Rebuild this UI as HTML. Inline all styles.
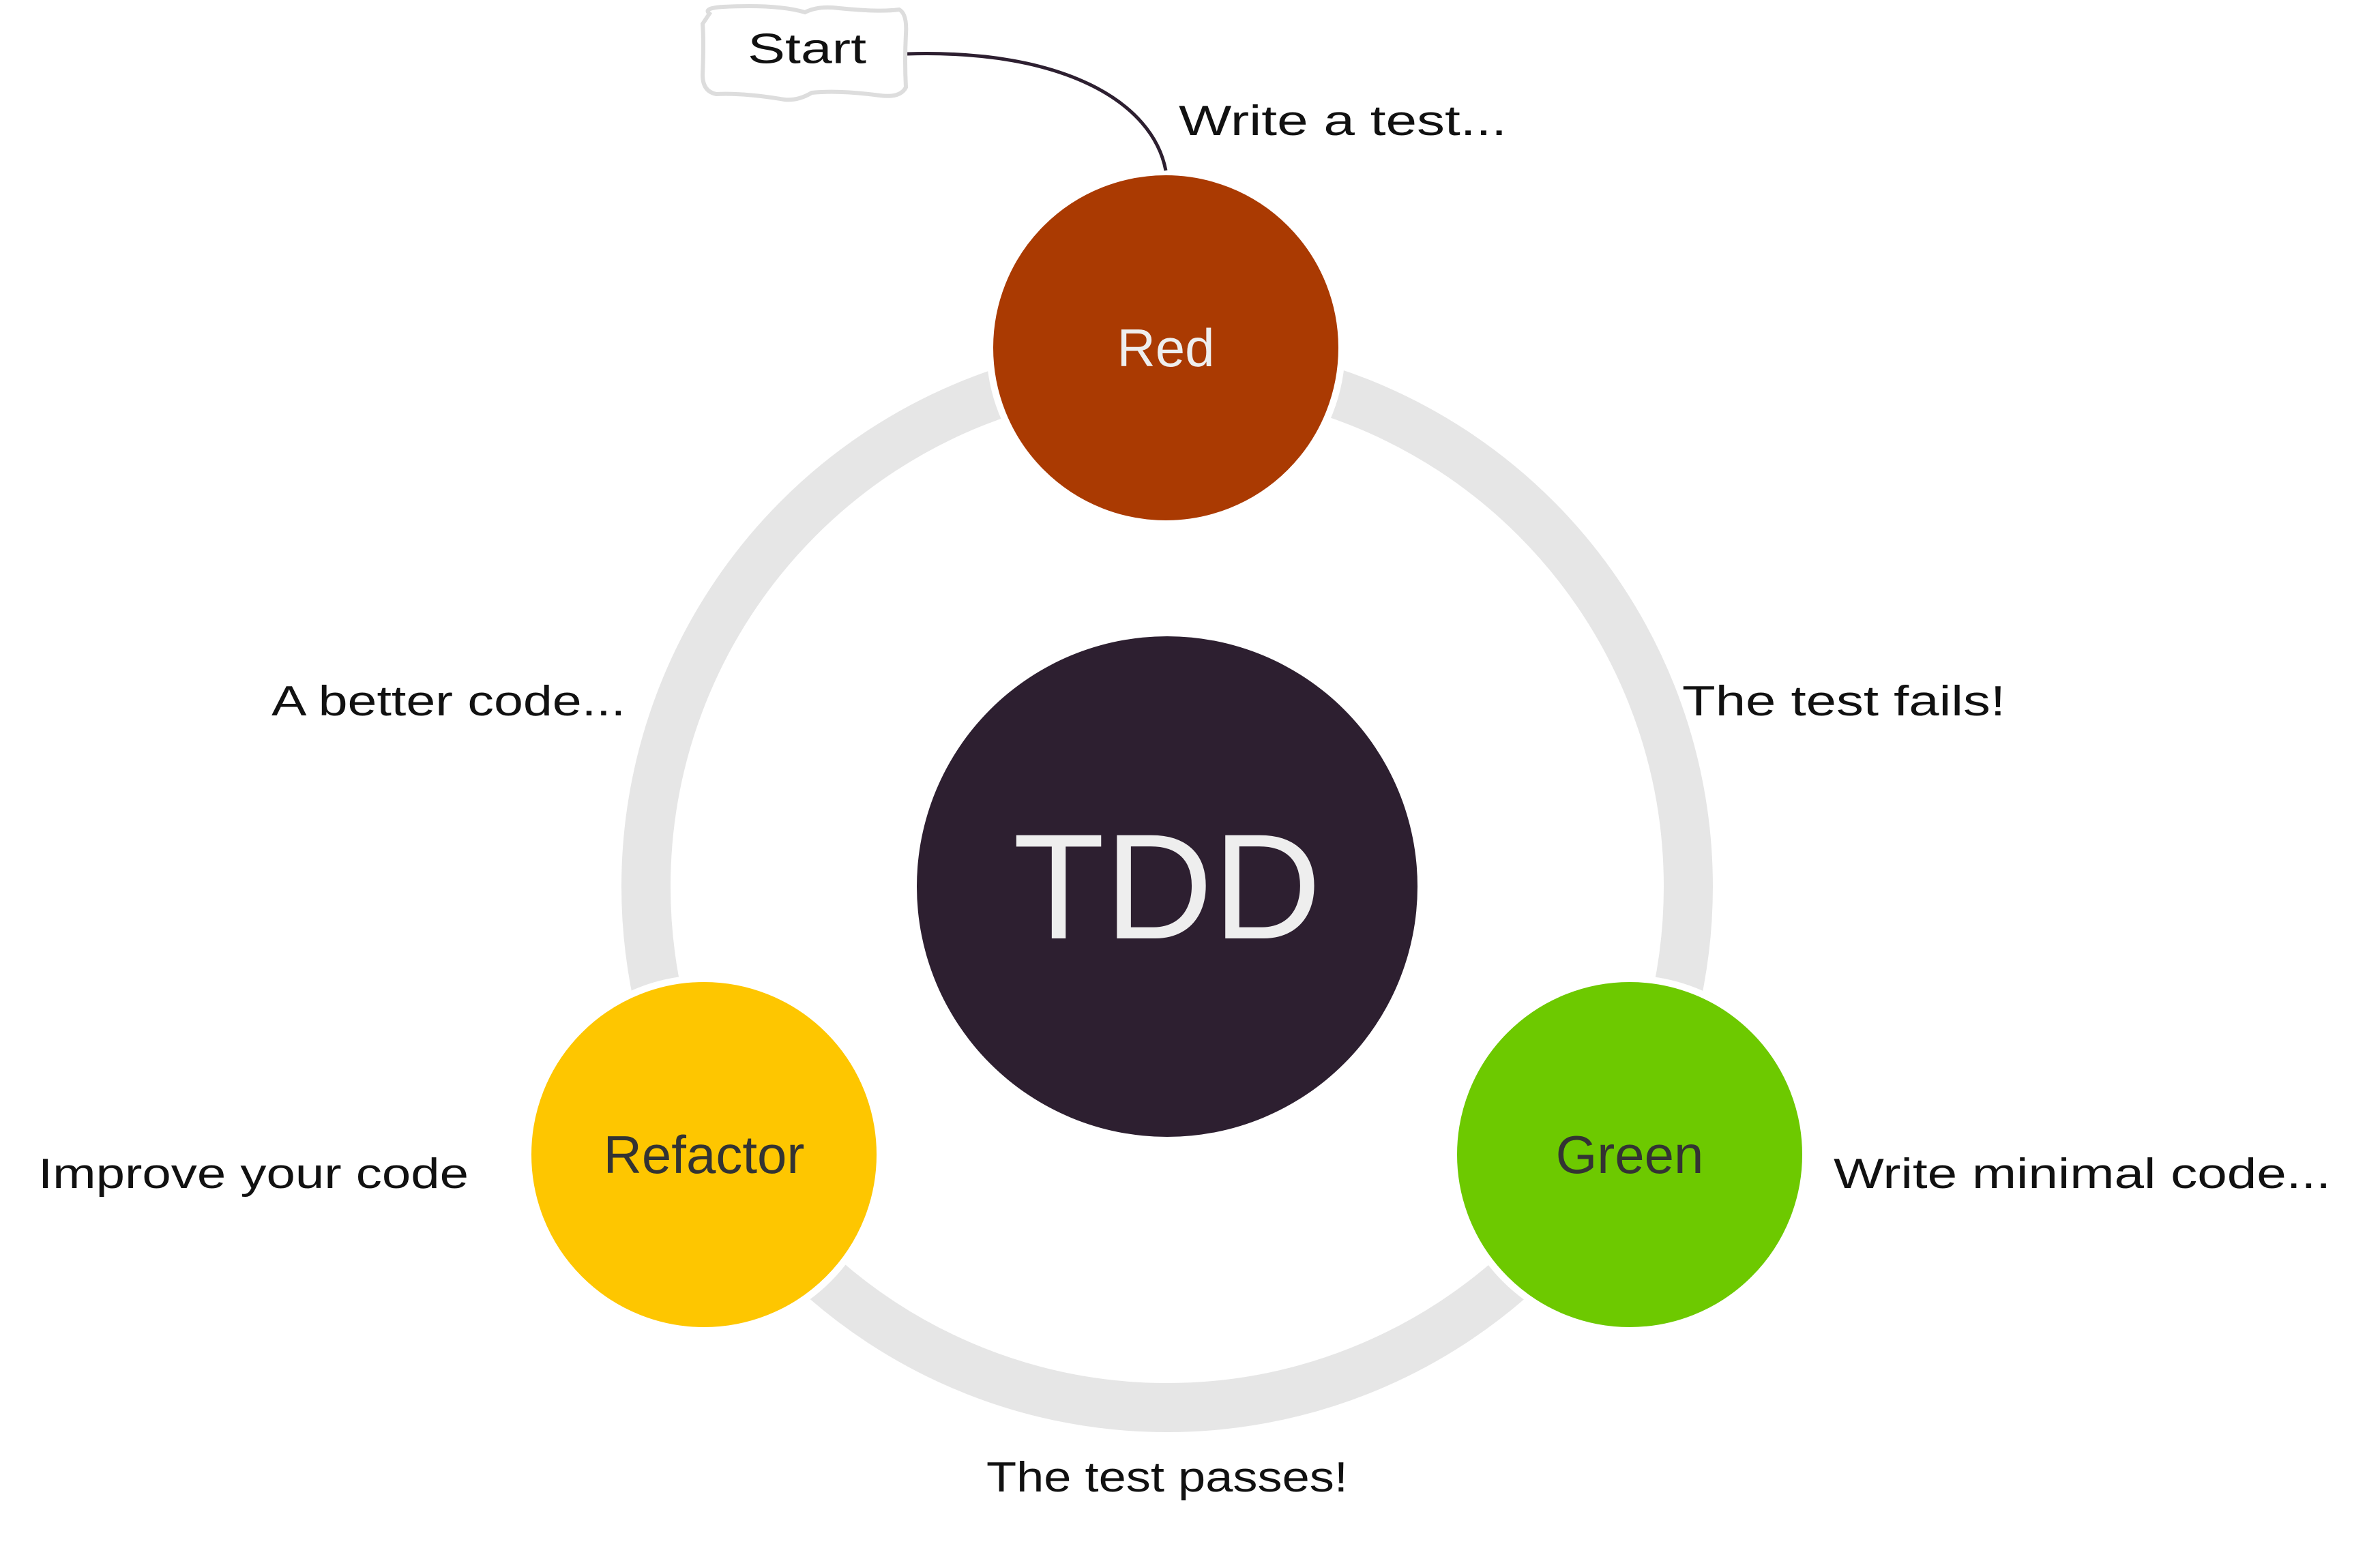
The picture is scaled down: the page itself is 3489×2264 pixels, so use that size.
<!DOCTYPE html>
<html><head><meta charset="utf-8"><style>
html,body{margin:0;padding:0;background:#fff;}
svg{display:block;}
.h{font-family:"Liberation Sans",sans-serif;font-size:62px;fill:#111;}
.n{font-family:"Liberation Sans",sans-serif;}
</style></head><body>
<svg width="3489" height="2264" viewBox="0 0 3489 2264" xmlns="http://www.w3.org/2000/svg">
<rect width="3489" height="2264" fill="#fff"/>
<circle cx="1711" cy="1300" r="764" fill="none" stroke="#e6e6e6" stroke-width="72"/>
<circle cx="1711" cy="1300" r="367" fill="#2d1f30"/>
<text x="1711" y="1300" class="n" font-size="220" fill="#eee" text-anchor="middle" dominant-baseline="central">TDD</text>
<circle cx="1709" cy="510" r="258" fill="#aa3a02" stroke="#fff" stroke-width="10"/>
<text x="1709" y="510" class="n" font-size="78" fill="#eee" text-anchor="middle" dominant-baseline="central">Red</text>
<circle cx="1032" cy="1693" r="258" fill="#fec600" stroke="#fff" stroke-width="10"/>
<text x="1032" y="1693" class="n" font-size="78" fill="#333" text-anchor="middle" dominant-baseline="central">Refactor</text>
<circle cx="2389" cy="1693" r="258" fill="#6dc900" stroke="#fff" stroke-width="10"/>
<text x="2389" y="1693" class="n" font-size="78" fill="#333" text-anchor="middle" dominant-baseline="central">Green</text>
<path d="M1330 79 C1560 72 1690 150 1709 250" fill="none" stroke="#2d1f30" stroke-width="5"/>
<path d="M1040 20 Q1030 12 1060 10 Q1140 6 1180 18 Q1200 8 1230 12 Q1290 18 1318 14 Q1330 20 1328 50 Q1326 90 1328 128 Q1320 144 1290 140 Q1230 132 1190 136 Q1170 148 1150 146 Q1090 136 1050 138 Q1030 134 1030 110 Q1032 60 1030 35 Z" fill="#fff" stroke="#ddd" stroke-width="6"/>
<text x="1096" y="72" class="h" fill="#2d1f30" dominant-baseline="central" textLength="174" lengthAdjust="spacingAndGlyphs">Start</text>
<text x="1728" y="198" class="h" textLength="481" lengthAdjust="spacingAndGlyphs">Write a  test...</text>
<text x="2466" y="1049" class="h" textLength="474" lengthAdjust="spacingAndGlyphs">The test fails!</text>
<text x="2688" y="1742" class="h" textLength="729" lengthAdjust="spacingAndGlyphs">Write minimal code...</text>
<text x="1446" y="2187" class="h" textLength="530" lengthAdjust="spacingAndGlyphs">The test passes!</text>
<text x="56" y="1742" class="h" textLength="631" lengthAdjust="spacingAndGlyphs">Improve your code</text>
<text x="398" y="1049" class="h" textLength="519" lengthAdjust="spacingAndGlyphs">A better code...</text>
</svg>
</body></html>
